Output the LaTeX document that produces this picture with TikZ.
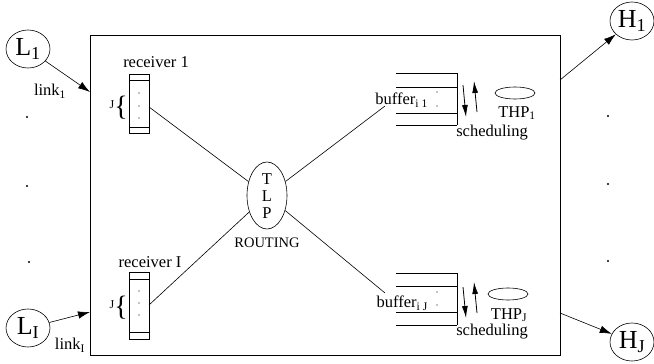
\documentclass[tikz,border=0pt]{standalone}
\usepackage{fontspec}
\setmainfont{Liberation Serif}
\usetikzlibrary{arrows.meta,shapes.geometric}
\begin{document}
\begin{tikzpicture}[x=1pt,y=-1pt,
  thinline/.style={line width=0.6pt},
  bigarrow/.style={line width=0.6pt,-{Latex[length=12pt,width=7.5pt]}},
  smallarrow/.style={line width=0.8pt,-{Latex[length=12pt,width=6pt]}},
  endnode/.style={ellipse,draw,line width=0.6pt,inner sep=0pt,minimum width=44pt,minimum height=38pt,font=\fontsize{26}{28}\selectfont},
  lbl/.style={font=\fontsize{16.5}{18}\selectfont,inner sep=0pt},
  dot/.style={circle,fill,inner sep=0pt,minimum size=2.2pt},
  tiny/.style={circle,fill,inner sep=0pt,minimum size=1.3pt}
]
\useasboundingbox (0,0) rectangle (654,364);
% main box
\draw[line width=0.8pt] (90,35) rectangle (560,355);
% input nodes
\node[endnode] (L1) at (28,49) {L\textsubscript{1}};
\node[endnode] (LI) at (28,328) {L\textsubscript{I}};
\node[endnode] (H1) at (632,21) {H\textsubscript{1}};
\node[endnode] (HJ) at (632,342) {H\textsubscript{J}};
\coordinate (in1) at (90,92);
\coordinate (inI) at (90,312);
\coordinate (out1) at (560,80);
\coordinate (outJ) at (560,313);
\draw[bigarrow] (L1) -- (in1);
\draw[bigarrow] (LI) -- (inI);
\draw[bigarrow] (out1) -- (H1);
\draw[bigarrow] (outJ) -- (HJ);
\node[lbl] (lk1) at (50,91) {link\textsubscript{1}};
\node[lbl] (lkI) at (70,345) {link\textsubscript{I}};
% dots left/right
\node[dot] (dl1) at (27,117) {};
\node[dot] (dl2) at (27,186) {};
\node[dot] (dl3) at (29,262) {};
\node[dot] (dr1) at (608,116) {};
\node[dot] (dr2) at (608,184) {};
\node[dot] (dr3) at (608,261) {};
% receivers
\node[draw,thinline,minimum width=20pt,minimum height=59pt,inner sep=0pt] (R1) at (139,103.5) {};
\draw[thinline] (129,80) -- (149,80) (129,127) -- (149,127);
\node[tiny] at (139,93) {};\node[tiny] at (139,106) {};\node[tiny] at (139,118) {};
\node[lbl] (r1lab) at (156,62) {receiver 1};
\node[font=\fontsize{12}{13}\selectfont,inner sep=0pt] (j1) at (112,105) {J};
\node[font=\fontsize{28}{30}\selectfont,inner sep=0pt] (b1) at (121,108) {\{};
\node[draw,thinline,minimum width=20pt,minimum height=67pt,inner sep=0pt] (RI) at (139,305.5) {};
\draw[thinline] (129,279) -- (149,279) (129,332) -- (149,332);
\node[tiny] at (139,291) {};\node[tiny] at (139,303) {};\node[tiny] at (139,315) {};
\node[lbl] (rIlab) at (150,262) {receiver I};
\node[font=\fontsize{12}{13}\selectfont,inner sep=0pt] (jI) at (112,305) {J};
\node[font=\fontsize{28}{30}\selectfont,inner sep=0pt] (bI) at (121,308) {\{};
% TLP
\node[ellipse,draw,thinline,minimum width=40pt,minimum height=67pt,inner sep=0pt] (TLP) at (267,195.5) {};
\node[lbl] at (267,179) {T};
\node[lbl] at (267,196) {L};
\node[lbl] at (267,213) {P};
\node[font=\fontsize{14.5}{16}\selectfont,inner sep=0pt] (rout) at (267,243) {ROUTING};
\coordinate (r1c) at (149,107);
\coordinate (rIc) at (149,305);
\coordinate (b1c) at (385,106);
\coordinate (bJc) at (385,293);
\draw[thinline] (r1c) -- (TLP);
\draw[thinline] (rIc) -- (TLP);
\draw[thinline] (TLP) -- (b1c);
\draw[thinline] (TLP) -- (bJc);
% buffer 1
\draw[thinline] (396,73) -- (457,73) (396,87) -- (457,87) (396,113) -- (457,113) (396,125) -- (457,125) (457,73) -- (457,125);
\node[tiny] at (437,92) {};\node[tiny] at (437,106) {};
\node[lbl,anchor=east] (buf1) at (428,100) {buffer\textsubscript{i 1}};
\coordinate (d1a) at (463,85);\coordinate (d1b) at (466,117);
\coordinate (u1a) at (477,112);\coordinate (u1b) at (474,81);
\draw[smallarrow] (d1a) -- (d1b);
\draw[smallarrow] (u1a) -- (u1b);
\node[ellipse,draw,thinline,minimum width=40pt,minimum height=12pt,inner sep=0pt] (thp1e) at (515,93) {};
\node[lbl] (thp1) at (517,113) {THP\textsubscript{1}};
\node[lbl] (sch1) at (492,133) {scheduling};
% buffer J
\draw[thinline] (396,273) -- (457,273) (396,286) -- (457,286) (396,312) -- (457,312) (396,325) -- (457,325) (457,273) -- (457,325);
\node[tiny] at (437,292) {};\node[tiny] at (437,305) {};
\node[lbl,anchor=east] (bufJ) at (428,303) {buffer\textsubscript{i J}};
\coordinate (dJa) at (463,287);\coordinate (dJb) at (466,318);
\coordinate (uJa) at (477,313);\coordinate (uJb) at (474,282);
\draw[smallarrow] (dJa) -- (dJb);
\draw[smallarrow] (uJa) -- (uJb);
\node[ellipse,draw,thinline,minimum width=40pt,minimum height=12pt,inner sep=0pt] (thpJe) at (508,294) {};
\node[lbl] (thpJ) at (509,315) {THP\textsubscript{J}};
\node[lbl] (schJ) at (492,332) {scheduling};
\end{tikzpicture}
\end{document}
